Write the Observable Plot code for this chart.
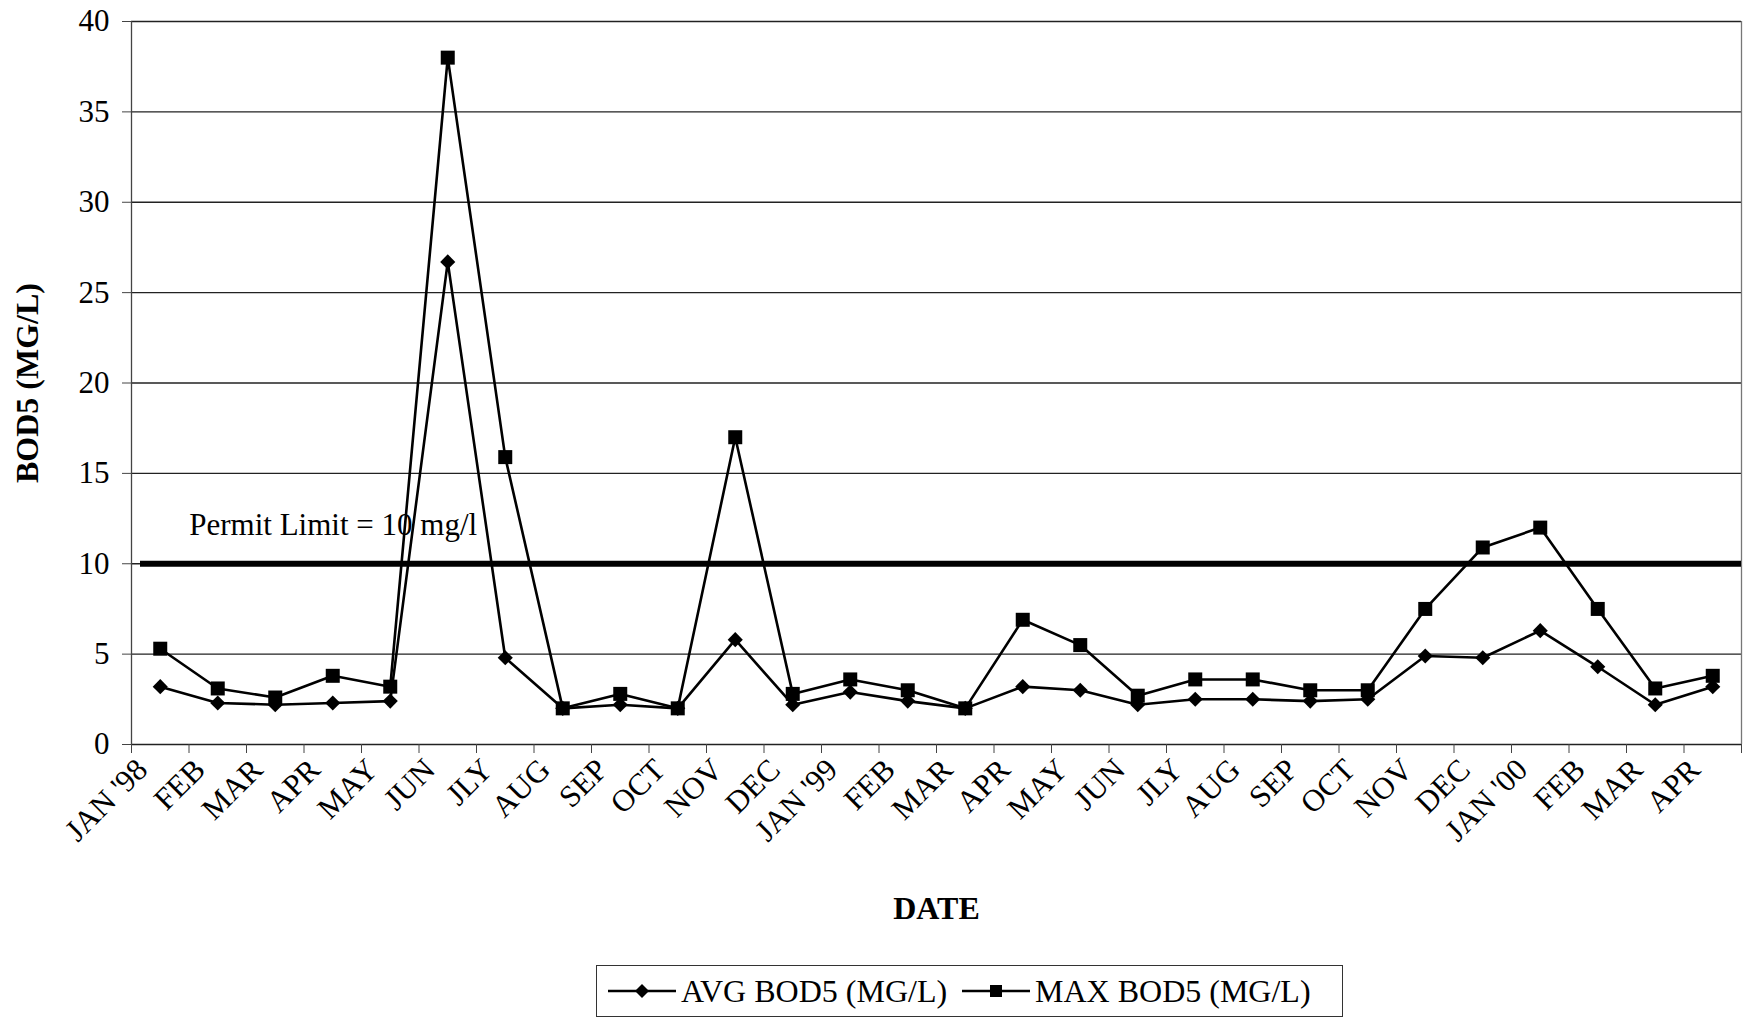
<!DOCTYPE html>
<html>
<head>
<meta charset="utf-8">
<script src="https://cdn.jsdelivr.net/npm/d3@7"></script>
<script src="https://cdn.jsdelivr.net/npm/@observablehq/plot@0.6"></script>
<style>
  html, body { margin: 0; padding: 0; background: #fff; }
  #wrap { position: relative; width: 1748px; height: 1018px; overflow: hidden; }
  #legend { position: absolute; left: 596px; top: 965px; width: 747px; height: 52px;
    border: 1.5px solid #333; box-sizing: border-box; font-family: "Liberation Serif", serif; font-size: 32px; color: #000; }
  .item { position: absolute; top: 0; height: 100%; display: flex; align-items: center; white-space: nowrap; }
  .item svg { margin-right: 5px; }
</style>
</head>
<body>
<div id="wrap"></div>
<script>
// ---- data ----
const months = ["JAN '98","FEB","MAR","APR","MAY","JUN","JLY","AUG","SEP","OCT","NOV","DEC",
                "JAN '99","FEB","MAR","APR","MAY","JUN","JLY","AUG","SEP","OCT","NOV","DEC",
                "JAN '00","FEB","MAR","APR"];
const avgBOD5 = [3.2, 2.3, 2.2, 2.3, 2.4, 26.7, 4.8, 2.0, 2.2, 2.0, 5.8, 2.2,
                 2.9, 2.4, 2.0, 3.2, 3.0, 2.2, 2.5, 2.5, 2.4, 2.5, 4.9, 4.8,
                 6.3, 4.3, 2.2, 3.2];
const maxBOD5 = [5.3, 3.1, 2.6, 3.8, 3.2, 38.0, 15.9, 2.0, 2.8, 2.0, 17.0, 2.8,
                 3.6, 3.0, 2.0, 6.9, 5.5, 2.7, 3.6, 3.6, 3.0, 3.0, 7.5, 10.9,
                 12.0, 7.5, 3.1, 3.8];
const yTicks = [0, 5, 10, 15, 20, 25, 30, 35, 40];
const permitLimit = 10;
const permitLabel = "Permit Limit = 10 mg/l";
const yTitle = "BOD5 (MG/L)";
const xTitle = "DATE";
const seriesNames = ["AVG BOD5 (MG/L)", "MAX BOD5 (MG/L)"];

// ---- build ----
const rows = months.map((m, i) => ({i, month: m, avg: avgBOD5[i], max: maxBOD5[i]}));
const idx = d3.range(months.length);
const bounds = d3.range(months.length + 1).map(k => k - 0.5);
const font = "Liberation Serif";

const chart = Plot.plot({
  width: 1748,
  height: 950,
  marginTop: 21,
  marginBottom: 206,
  marginLeft: 131,
  marginRight: 7,
  style: {fontFamily: font, fontSize: "31px", color: "#000", background: "#fff", overflow: "visible"},
  x: {domain: [-0.5, months.length - 0.5]},
  y: {domain: [0, 40]},
  marks: [
    Plot.ruleY(yTicks, {stroke: "#222", strokeWidth: 1.3}),
    Plot.ruleX([bounds[0]], {stroke: "#444", strokeWidth: 1.3}),
    Plot.ruleX([bounds[bounds.length - 1]], {stroke: "#777", strokeWidth: 1.3}),
    Plot.axisY({ticks: yTicks, tickSize: 9, tickPadding: 13, label: null, stroke: "#444", fontSize: 31}),
    Plot.axisX({ticks: bounds, tickSize: 9, tickFormat: () => "", label: null, stroke: "#444"}),
    Plot.axisX({ticks: idx, tickSize: 0, tickPadding: 3, tickRotate: -45, tickFormat: i => months[i],
                label: null, dx: -18, dy: 17, fontSize: 31}),
    Plot.ruleY([permitLimit], {stroke: "#000", strokeWidth: 6, insetLeft: 9}),
    Plot.text([permitLabel], {x: 0, y: permitLimit, dx: 29, dy: -39, textAnchor: "start", fontSize: 31}),
    Plot.line(rows, {x: "i", y: "avg", stroke: "#000", strokeWidth: 2.6}),
    Plot.line(rows, {x: "i", y: "max", stroke: "#000", strokeWidth: 2.6}),
    Plot.dot(rows, {x: "i", y: "avg", symbol: "diamond2", fill: "#000", stroke: "none", r: 6.8}),
    Plot.dot(rows, {x: "i", y: "max", symbol: "square", fill: "#000", stroke: "none", r: 7.9}),
    Plot.text([yTitle], {frameAnchor: "left", textAnchor: "middle", rotate: -90, dx: -104, fontWeight: "bold", fontSize: 32}),
    Plot.text([xTitle], {frameAnchor: "bottom", dy: 174, fontWeight: "bold", fontSize: 32})
  ]
});
document.getElementById("wrap").appendChild(chart);

// ---- legend ----
const legend = document.createElement("div");
legend.id = "legend";
const swatch = (sym) => {
  const s = d3.create("svg").attr("width", 68).attr("height", 20);
  s.append("line").attr("x1", 0).attr("x2", 68).attr("y1", 10).attr("y2", 10)
    .attr("stroke", "#000").attr("stroke-width", 2.5);
  if (sym === "diamond") {
    s.append("path").attr("d", "M34,3L41,10L34,17L27,10Z").attr("fill", "#000");
  } else {
    s.append("rect").attr("x", 28).attr("y", 4).attr("width", 12).attr("height", 12).attr("fill", "#000");
  }
  return s.node();
};
[[seriesNames[0], "diamond", 11], [seriesNames[1], "square", 365]].forEach(([name, sym, left]) => {
  const it = document.createElement("div");
  it.className = "item";
  it.style.left = left + "px";
  it.appendChild(swatch(sym));
  const t = document.createElement("span");
  t.textContent = name;
  it.appendChild(t);
  legend.appendChild(it);
});
document.getElementById("wrap").appendChild(legend);
</script>
</body>
</html>
